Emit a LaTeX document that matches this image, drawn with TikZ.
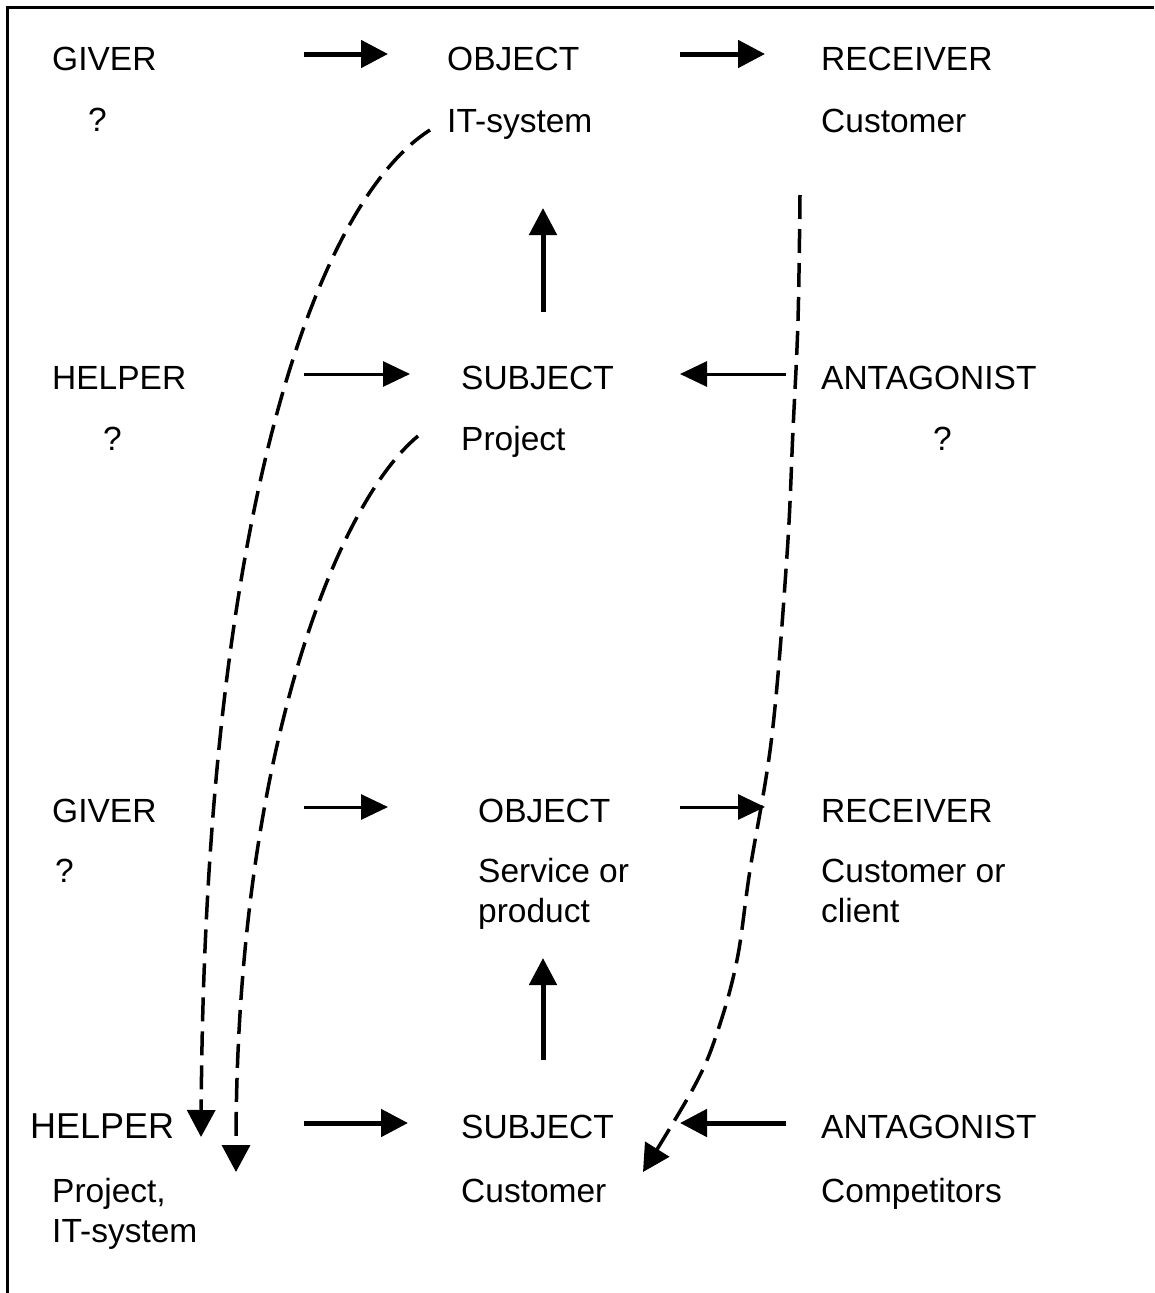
\documentclass[tikz,border=0pt]{standalone}
\usepackage{fontspec}
\setmainfont{Liberation Sans}
\usetikzlibrary{arrows.meta}
\begin{document}
\begin{tikzpicture}[x=1pt,y=-1pt,
  lbl/.style={anchor=base west, inner sep=0pt, align=left,
              font=\fontsize{33.5}{40}\selectfont},
  boldarrow/.style={line width=5pt, -{Triangle[length=27pt,width=27pt]}},
  thinarrow/.style={line width=3pt, -{Triangle[length=27pt,width=25pt]}},
  dashlink/.style={line width=3.5pt, dash pattern=on 24pt off 10pt,
              -{Triangle[length=27pt,width=28pt]}},
]
\useasboundingbox (0,0) rectangle (1154,1293);
% frame: left and top edges only
\draw[line width=3pt] (7,1293) -- (7,7) -- (1154,7);

% ---- upper actant model ----
\node[lbl] (giverA) at (52,70)  {GIVER};
\node[lbl] (qA)     at (88,131) {?};
\node[lbl] (objA)   at (447,70) {OBJECT};
\node[lbl] (itA)    at (447,132) {IT-system};
\node[lbl] (recA)   at (821,70) {RECEIVER};
\node[lbl] (custA)  at (821,132) {Customer};

\node[lbl] (helpB)  at (52,389)  {HELPER};
\node[lbl] (qB)     at (103,450) {?};
\node[lbl] (subjB)  at (461,389) {SUBJECT};
\node[lbl] (projB)  at (461,450) {Project};
\node[lbl] (antB)   at (821,389) {ANTAGONIST};
\node[lbl] (qB2)    at (933,450) {?};

% ---- lower actant model ----
% (two-line labels are placed by the baseline of their last line)
\node[lbl] (giverC) at (52,822)  {GIVER};
\node[lbl] (qC)     at (55,882)  {?};
\node[lbl] (objC)   at (478,822) {OBJECT};
\node[lbl] (svcC)   at (478,922) {Service or\\product};
\node[lbl] (recC)   at (821,822) {RECEIVER};
\node[lbl] (custC)  at (821,922) {Customer or\\client};

\node[lbl, font=\fontsize{36}{40}\selectfont]
           (helpD)  at (30,1138)  {HELPER};
\node[lbl] (projD)  at (52,1242)  {Project,\\IT-system};
\node[lbl] (subjD)  at (461,1138) {SUBJECT};
\node[lbl] (custD)  at (461,1202) {Customer};
\node[lbl] (antD)   at (821,1138) {ANTAGONIST};
\node[lbl] (compD)  at (821,1202) {Competitors};

% arrow end points
\coordinate (a1s) at (304,54);   \coordinate (a1e) at (388,54);
\coordinate (a2s) at (680,54);   \coordinate (a2e) at (765,54);
\coordinate (v1s) at (543,312);  \coordinate (v1e) at (543,208);
\coordinate (b1s) at (304,374);  \coordinate (b1e) at (410,374);
\coordinate (b2s) at (786,374);  \coordinate (b2e) at (680,374);
\coordinate (c1s) at (304,807);  \coordinate (c1e) at (388,807);
\coordinate (c2s) at (680,807);  \coordinate (c2e) at (765,807);
\coordinate (v2s) at (543,1060); \coordinate (v2e) at (543,958);
\coordinate (d1s) at (304,1123); \coordinate (d1e) at (408,1123);
\coordinate (d2s) at (786,1123); \coordinate (d2e) at (680,1123);

\draw[boldarrow] (a1s) -- (a1e);
\draw[boldarrow] (a2s) -- (a2e);
\draw[boldarrow] (v1s) -- (v1e);
\draw[thinarrow] (b1s) -- (b1e);
\draw[thinarrow] (b2s) -- (b2e);
\draw[thinarrow] (c1s) -- (c1e);
\draw[thinarrow] (c2s) -- (c2e);
\draw[boldarrow] (v2s) -- (v2e);
\draw[boldarrow] (d1s) -- (d1e);
\draw[boldarrow] (d2s) -- (d2e);

% dashed mappings between the two models
\coordinate (m1s) at (430,130);  \coordinate (m1e) at (201,1137);
\coordinate (m2s) at (418,436);  \coordinate (m2e) at (236,1172);
\coordinate (m3s) at (800,195);  \coordinate (m3e) at (643,1172);

\draw[dashlink] (m1s) .. controls (320,200) and (205,500) .. (m1e);
\draw[dashlink] (m2s) .. controls (335,505) and (236,760) .. (m2e);
\draw[dashlink] plot[smooth, tension=0.6] coordinates
  {(m3s) (798,320) (793,430) (787,555) (772,735) (750,870) (737,960)
   (718,1030) (695,1085) (m3e)};
\end{tikzpicture}
\end{document}
